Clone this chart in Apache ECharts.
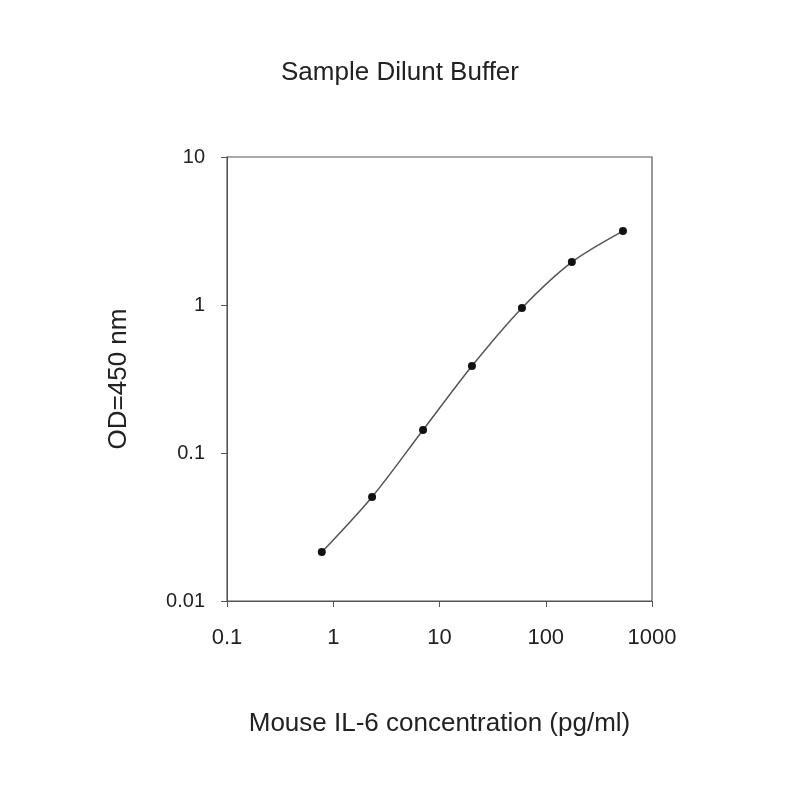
<!DOCTYPE html>
<html><head><meta charset="utf-8">
<script src="https://cdn.jsdelivr.net/npm/echarts@6/dist/echarts.min.js"></script>
</head><body style="margin:0;background:#fff">
<div id="c" style="width:800px;height:800px"></div>
<script>
const conc = [0.78, 2.32, 7.0, 20.2, 59.7, 176, 533];
const od = [0.0214, 0.0505, 0.143, 0.387, 0.955, 1.95, 3.16];
const chart = echarts.init(document.getElementById('c'));
const font = 'Liberation Sans, Arial, sans-serif';
chart.setOption({
  animation: false,
  title: {text: 'Sample Dilunt Buffer', left: 'center', top: 55, textStyle: {fontFamily: font, fontSize: 26, fontWeight: 'normal', color: '#222'}},
  grid: {left: 227, right: 148, top: 157, bottom: 199, show: true, borderColor: '#555', borderWidth: 1.2},
  xAxis: {type: 'log', logBase: 10, min: 0.1, max: 1000,
    name: 'Mouse IL-6 concentration (pg/ml)', nameLocation: 'middle', nameGap: 110,
    nameTextStyle: {fontFamily: font, fontSize: 26, color: '#222'},
    axisLine: {lineStyle: {color: '#555'}}, axisTick: {length: 6, lineStyle: {color: '#555'}},
    splitLine: {show: false},
    axisLabel: {fontFamily: font, fontSize: 22, color: '#222', margin: 26, formatter: v => String(v)}},
  yAxis: {type: 'log', logBase: 10, min: 0.01, max: 10,
    name: 'OD=450 nm', nameLocation: 'middle', nameGap: 95,
    nameTextStyle: {fontFamily: font, fontSize: 26, color: '#222'},
    axisLine: {show: true, lineStyle: {color: '#555'}}, axisTick: {show: true, length: 6, lineStyle: {color: '#555'}},
    splitLine: {show: false},
    axisLabel: {fontFamily: font, fontSize: 20, color: '#222', margin: 22, formatter: v => String(v)}},
  series: [{type: 'line', smooth: 0.3, data: conc.map((x, i) => [x, od[i]]),
    symbol: 'circle', symbolSize: 8, itemStyle: {color: '#111'}, lineStyle: {color: '#555', width: 1.5}}]
});
</script></body></html>
